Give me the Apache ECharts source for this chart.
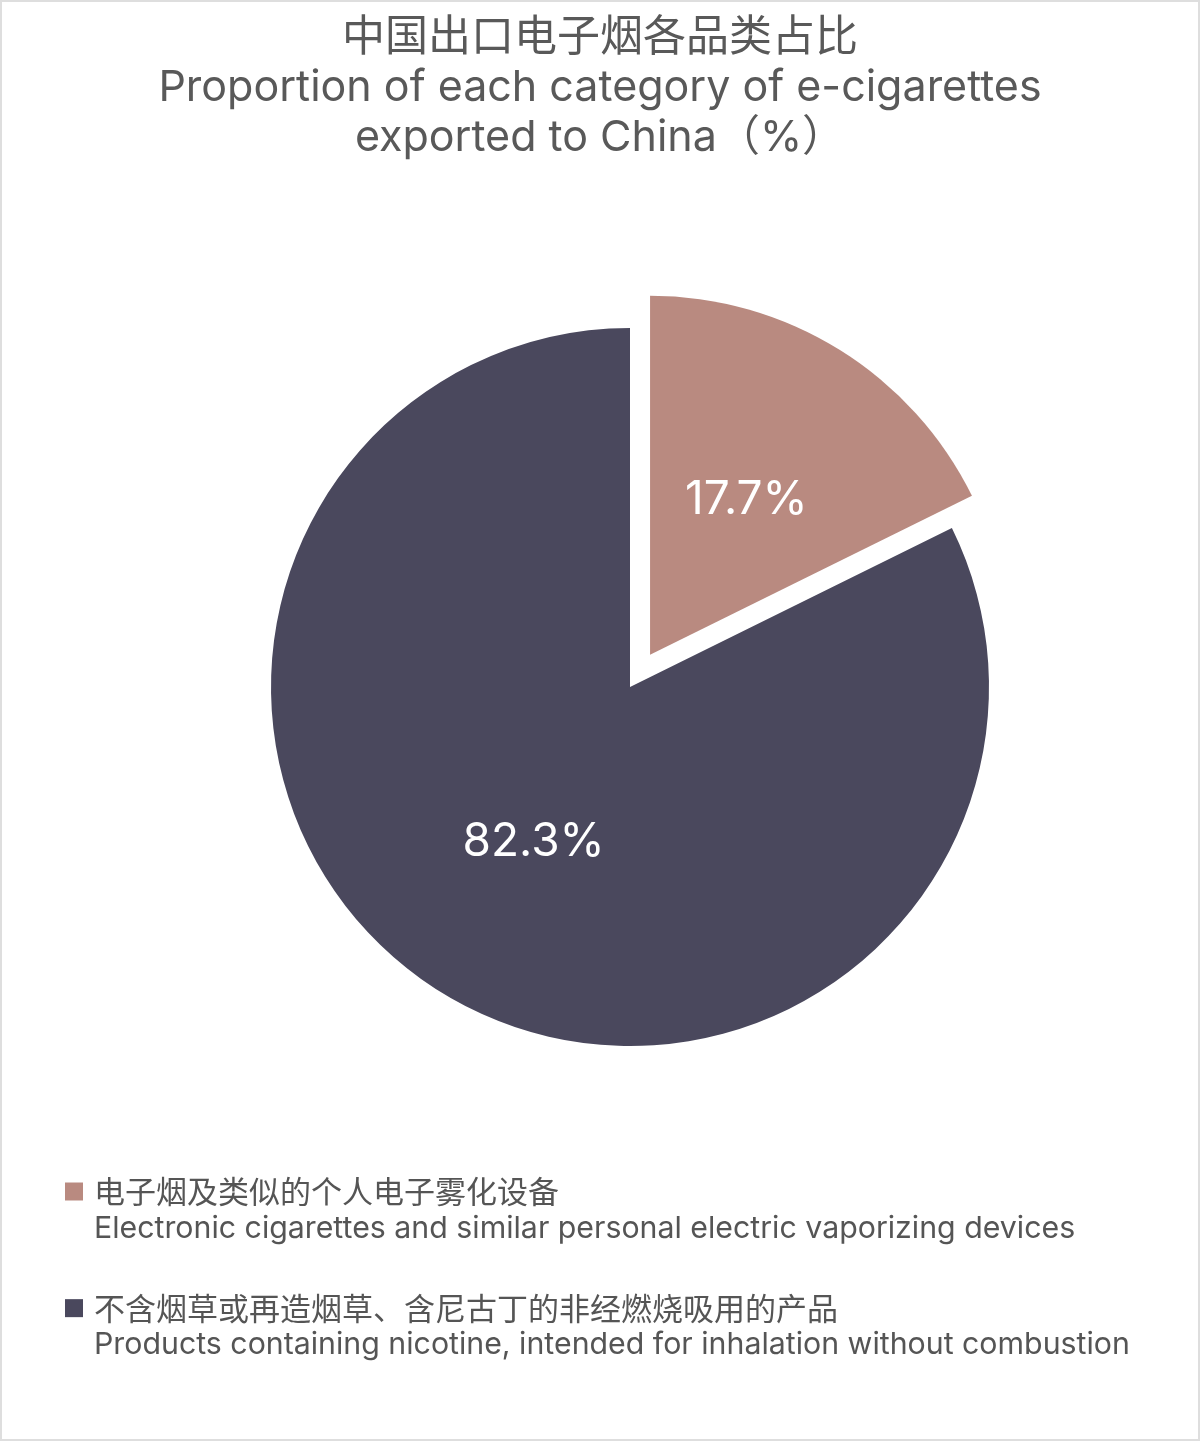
<!DOCTYPE html>
<html style="height: 100%">
<head>
    <meta charset="utf-8">
    <style>
        html, body { margin: 0; padding: 0; background: #fff; }
        #container { width: 1200px; height: 1441px; box-sizing: border-box; border: 2px solid #dedede; }
    </style>
</head>
<body>
<div id="container"></div>
<script src="https://cdn.jsdelivr.net/npm/echarts@6/dist/echarts.min.js"></script>
<script type="text/javascript">
    // 品类名称（中 / 英）
    var namesCn = ['电子烟及类似的个人电子雾化设备', '不含烟草或再造烟草、含尼古丁的非经燃烧吸用的产品'];
    var namesEn = ['Electronic cigarettes and similar personal electric vaporizing devices',
        'Products containing nicotine, intended for inhalation without combustion'];
    // 占比 %
    var shares = [17.7, 82.3];
    var colors = ['#b98a80', '#4a485d'];

    var cnFont = '"Noto Sans CJK SC", sans-serif';
    var enFont = 'Inter, "Noto Sans CJK SC", sans-serif';

    var dom = document.getElementById('container');
    var myChart = echarts.init(dom);

    var pieData = [];
    for (var i = 0; i < shares.length; i++) {
        pieData.push({
            name: namesCn[i],
            value: shares[i],
            selected: i === 0,
            itemStyle: { color: colors[i] }
        });
    }

    var option = {
        backgroundColor: '#fff',
        title: {
            text: '{cn|中国出口电子烟各品类占比}\n{en|Proportion of each category of e-cigarettes}\n{en|exported to China（%）}',
            left: 593,
            top: 0,
            textAlign: 'center',
            textStyle: {
                color: '#595959',
                fontWeight: 'normal',
                rich: {
                    cn: { fontFamily: cnFont, fontSize: 43, fontWeight: 'normal', color: '#595959', lineHeight: 56, align: 'center' },
                    en: { fontFamily: enFont, fontSize: 43, fontWeight: 'normal', color: '#595959', lineHeight: 50, align: 'center' }
                }
            }
        },
        legend: {
            orient: 'vertical',
            left: 58,
            top: 1132,
            itemWidth: 18,
            itemHeight: 18,
            itemGap: 12,
            icon: 'rect',
            selectedMode: false,
            data: namesCn,
            formatter: function (name) {
                var k = namesCn.indexOf(name);
                return '{cn| }\n{cn|' + name + '}\n{en|' + namesEn[k] + '}';
            },
            textStyle: {
                color: '#555',
                rich: {
                    cn: { fontFamily: cnFont, fontSize: 31, color: '#555', lineHeight: 37, padding: [0, 0, 0, 6] },
                    en: { fontFamily: enFont, fontSize: 30.3, color: '#555', lineHeight: 37, padding: [0, 0, 0, 6] }
                }
            }
        },
        series: [
            {
                type: 'pie',
                center: [628, 685],
                radius: 359,
                startAngle: 90,
                clockwise: true,
                selectedMode: 'single',
                selectedOffset: 38,
                avoidLabelOverlap: false,
                label: {
                    show: true,
                    position: 'inside',
                    formatter: function (p) { return p.value.toFixed(1) + '%'; },
                    fontFamily: enFont,
                    fontSize: 46,
                    color: '#fff'
                },
                labelLine: { show: false },
                emphasis: { disabled: true },
                data: pieData
            }
        ]
    };

    if (option && typeof option === 'object') {
        myChart.setOption(option);
    }
</script>
</body>
</html>
